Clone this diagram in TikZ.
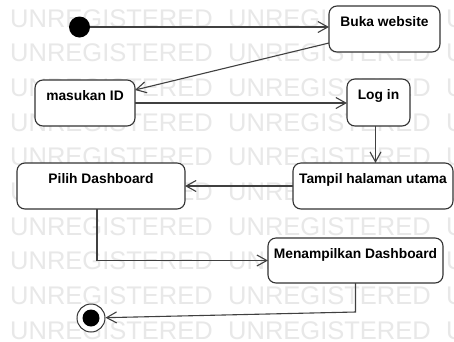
\documentclass[tikz,border=0pt]{standalone}
\usepackage{fontspec}
\setmainfont{Liberation Sans}
\usetikzlibrary{arrows.meta}

\tikzset{
  act/.style={draw=black!80, line width=1.1pt, rounded corners=8pt, fill=white,
    anchor=north, inner xsep=1pt, inner ysep=0pt, outer sep=0pt,
    text height=20.5pt, text depth=25.5pt,
    font=\fontsize{13.8}{16}\selectfont\bfseries},
  flow/.style={draw=black!75, line width=1.1pt,
    -{Straight Barb[length=10pt,width=11pt,line width=1.1pt]}},
  wmark/.style={anchor=base west, inner sep=0pt, text=black!9,
    font=\fontsize{25.5}{26}\selectfont}
}

\begin{document}
\begin{tikzpicture}[x=1pt, y=-1pt]
  \useasboundingbox (0,0) rectangle (454,341);
  \fill[white] (0,0) rectangle (454,341);

  % background watermark rows
  \begin{scope}
    \clip (0,0) rectangle (454,341);
    \foreach \r in {0,...,9} {
      \foreach \c in {0,1,2} {
        \node[wmark] (wm-\r-\c) at ({10+218*\c}, {27+34.67*\r}) {UNREGISTERED};
      }
    }
  \end{scope}

  % activities
  \node[act, minimum width=111pt] (buka)  at (384.5,6)  {Buka website};
  \node[act, minimum width=100pt] (masuk) at (85,80)    {masukan ID};
  \node[act, minimum width=63pt, text depth=26.5pt] (login) at (378.5,79) {Log in};
  \node[act, minimum width=160pt] (tampil) at (373,163) {Tampil halaman utama};
  \node[act, minimum width=168pt] (pilih) at (101,163)  {Pilih Dashboard};
  \node[act, minimum width=175pt, text depth=24.5pt] (mena) at (355.5,238) {Menampilkan Dashboard};

  % start and end states
  \node[circle, fill=black, minimum size=21pt, inner sep=0pt] (init) at (79.5,27) {};
  \node[circle, draw=black!80, line width=1pt, fill=white, minimum size=28pt, inner sep=0pt] (fin) at (91,318) {};
  \node[circle, fill=black, minimum size=17pt, inner sep=0pt] (fincore) at (91,318) {};

  \coordinate (bend) at ([yshift=-29pt]mena.south);

  % transitions
  \draw[flow] (init) -- (init -| buka.west);
  \draw[flow] ([yshift=-14pt]buka.west) -- ([yshift=-10pt]masuk.north east);
  \draw[flow] (masuk.east) -- (masuk.east -| login.west);
  \draw[flow] ([xshift=-3pt]login.south) -- ([xshift=-3pt]login.south |- tampil.north);
  \draw[flow] (tampil.west) -- (tampil.west -| pilih.east);
  \draw[flow] ([xshift=-4pt]pilih.south) |- (mena.west);
  \draw[flow] (mena.south) -- (bend) -- (fin);
\end{tikzpicture}
\end{document}
